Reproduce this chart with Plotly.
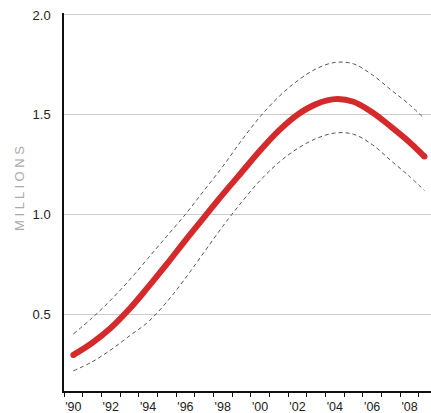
import plotly.graph_objects as go

# Data
years = [1990.5, 1991.5, 1992.5, 1993.5, 1994.5, 1995.5, 1996.5, 1997.5, 1998.5, 1999.5,
         2000.5, 2001.5, 2002.5, 2003.5, 2004.5, 2005.5, 2006.5, 2007.5, 2008.5, 2009.3]
estimate = [0.295, 0.355, 0.43, 0.525, 0.635, 0.75, 0.87, 0.985, 1.10, 1.21,
            1.32, 1.42, 1.50, 1.553, 1.578, 1.565, 1.512, 1.440, 1.362, 1.29]
upper = [0.40, 0.48, 0.57, 0.67, 0.78, 0.89, 1.00, 1.12, 1.24, 1.37,
         1.49, 1.59, 1.67, 1.73, 1.762, 1.755, 1.70, 1.625, 1.55, 1.48]
lower = [0.215, 0.26, 0.32, 0.39, 0.46, 0.56, 0.68, 0.81, 0.94, 1.06,
         1.17, 1.26, 1.33, 1.38, 1.408, 1.402, 1.35, 1.27, 1.19, 1.12]

label_positions = [1990.5, 1992.5, 1994.5, 1996.5, 1998.5, 2000.5, 2002.5, 2004.5, 2006.5, 2008.5]
label_texts = ["'90", "'92", "'94", "'96", "'98", "'00", "'02", "'04", "'06", "'08"]
year_ticks = list(range(1990, 2010))
y_ticks = [0.5, 1.0, 1.5, 2.0]
y_labels = ["0.5", "1.0", "1.5", "2.0"]

FONT = "Liberation Sans, Arial, Helvetica, sans-serif"

fig = go.Figure()
for series in (upper, lower):
    fig.add_trace(go.Scatter(x=years, y=series, mode="lines",
                             line=dict(color="#555555", width=1, dash="4px,3px", shape="spline", smoothing=1.0),
                             hoverinfo="skip", showlegend=False))
fig.add_trace(go.Scatter(x=years, y=estimate, mode="lines",
                         line=dict(color="#d42a2c", width=6, shape="spline", smoothing=1.0),
                         showlegend=False))
fig.add_trace(go.Scatter(x=[years[0], years[-1]], y=[estimate[0], estimate[-1]], mode="markers",
                         marker=dict(color="#d42a2c", size=6), hoverinfo="skip", showlegend=False))

fig.update_layout(
    width=431, height=413,
    margin=dict(l=64, r=0, t=13, b=22),
    plot_bgcolor="white", paper_bgcolor="white",
    font=dict(family=FONT, size=13, color="#222222"),
    xaxis=dict(range=[1990, 2009.65], tickvals=label_positions, ticktext=label_texts,
               ticks="", showgrid=False, zeroline=False, automargin=False,
               showline=True, linecolor="#111111", linewidth=1.5,
               ticklabelstandoff=3,
               tickfont=dict(size=12.5, color="#222222"),
               minor=dict(tickvals=year_ticks, ticks="outside", ticklen=4, tickcolor="#111111",
                          tickwidth=1.2, showgrid=False)),
    yaxis=dict(range=[0.114, 2.01], tickvals=y_ticks, ticktext=y_labels,
               showgrid=True, gridcolor="#cccccc", gridwidth=1, zeroline=False, automargin=False,
               showline=True, linecolor="#111111", linewidth=1.5, ticks="",
               ticklabelstandoff=9, tickfont=dict(size=13, color="#222222")),
    annotations=[dict(text="M I L L I O N S", textangle=-90,
                      xref="paper", yref="paper", x=-64 / 367 + 19 / 367, y=(391 - 189) / 378,
                      xanchor="center", yanchor="middle", showarrow=False,
                      font=dict(family=FONT, size=13, color="#aaaaaa"))],
)

fig.write_html("out.html")
